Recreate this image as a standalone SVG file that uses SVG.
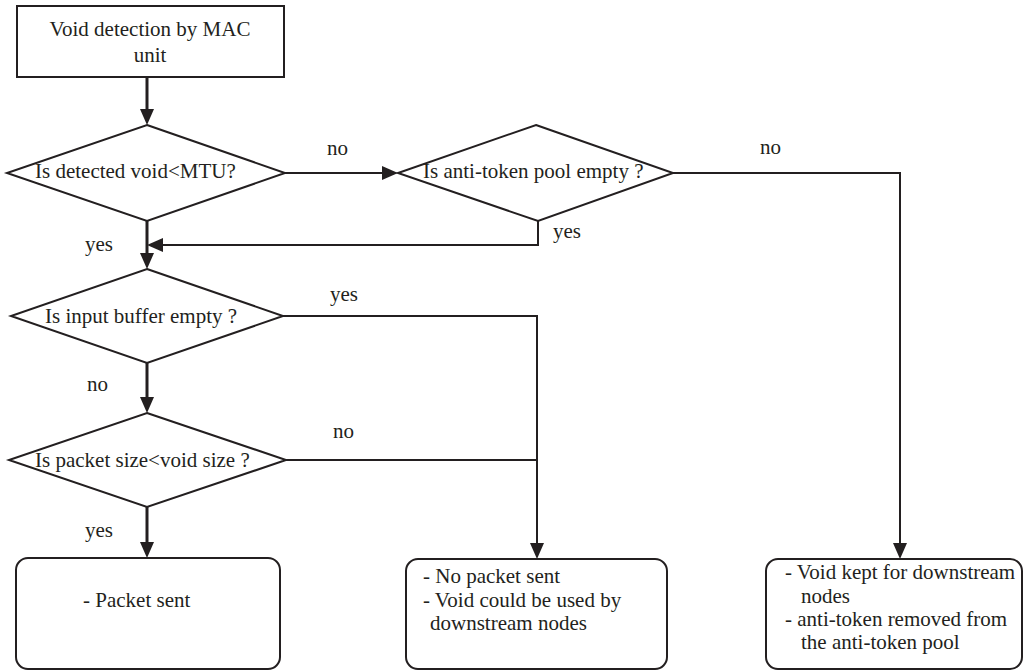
<svg xmlns="http://www.w3.org/2000/svg" width="1024" height="672" viewBox="0 0 1024 672">
<style>
  .shape { fill: #fff; stroke: #231f20; stroke-width: 2; }
  .t { font-family: "Liberation Serif", "Times New Roman", serif; font-size: 21px; fill: #231f20; }
  .c { fill: none; stroke: #231f20; stroke-width: 2; }
  .ct { fill: none; stroke: #231f20; stroke-width: 3; }
</style>
<defs>
  <marker id="arr" viewBox="0 0 16 14" markerWidth="16" markerHeight="14" markerUnits="userSpaceOnUse" refX="8" refY="7" orient="auto">
    <path d="M0,0 L16,7 L0,14 Z" fill="#231f20"/>
  </marker>
</defs>
<rect width="1024" height="672" fill="#fff"/>

<g id="connectors">
  <line class="ct" x1="147" y1="77" x2="147" y2="117" marker-end="url(#arr)"/>
  <line class="c" x1="285" y1="173" x2="390" y2="173" marker-end="url(#arr)"/>
  <polyline class="c" points="538,221 538,245 155,245" marker-end="url(#arr)"/>
  <line class="ct" x1="147" y1="221" x2="147" y2="261" marker-end="url(#arr)"/>
  <polyline class="c" points="673,173 900,173 900,551" marker-end="url(#arr)"/>
  <polyline class="c" points="283,316 537,316 537,551" marker-end="url(#arr)"/>
  <line class="c" x1="286" y1="460" x2="537" y2="460"/>
  <line class="ct" x1="147" y1="363" x2="147" y2="405" marker-end="url(#arr)"/>
  <line class="ct" x1="147" y1="507" x2="147" y2="550" marker-end="url(#arr)"/>
  <text class="t" x="327" y="155">no</text>
  <text class="t" x="760" y="154">no</text>
  <text class="t" x="553" y="238">yes</text>
  <text class="t" x="85" y="251">yes</text>
  <text class="t" x="330" y="301">yes</text>
  <text class="t" x="87" y="391">no</text>
  <text class="t" x="333" y="438">no</text>
  <text class="t" x="85" y="537">yes</text>
</g>

<g id="start">
  <rect class="shape" x="17" y="6" width="267" height="71"/>
  <text class="t" x="150" y="36" text-anchor="middle">Void detection by MAC</text>
  <text class="t" x="150" y="62" text-anchor="middle">unit</text>
</g>

<g id="d-void-mtu">
  <polygon class="shape" points="147,125 285,173 147,221 7,173"/>
  <text class="t" x="35" y="178">Is detected void&lt;MTU?</text>
</g>

<g id="d-antitoken">
  <polygon class="shape" points="536,125 673,173 538,221 398,173"/>
  <text class="t" x="423" y="178">Is anti-token pool empty ?</text>
</g>

<g id="d-buffer">
  <polygon class="shape" points="147,269 283,316 147,363 11,316"/>
  <text class="t" x="45" y="323">Is input buffer empty ?</text>
</g>

<g id="d-packet">
  <polygon class="shape" points="147,413 286,460 147,507 9,460"/>
  <text class="t" x="35" y="467">Is packet size&lt;void size ?</text>
</g>

<g id="r-sent">
  <rect class="shape" x="16" y="558" width="264" height="111" rx="12"/>
  <text class="t" x="83" y="607">- Packet sent</text>
</g>

<g id="r-nosent">
  <rect class="shape" x="406" y="559" width="261" height="110" rx="12"/>
  <text class="t" x="423" y="583">- No packet sent</text>
  <text class="t" x="423" y="607">- Void could be used by</text>
  <text class="t" x="430" y="630">downstream nodes</text>
</g>

<g id="r-kept">
  <rect class="shape" x="766" y="559" width="256" height="110" rx="12"/>
  <text class="t" x="785" y="579">- Void kept for downstream</text>
  <text class="t" x="801" y="603">nodes</text>
  <text class="t" x="785" y="626">- anti-token removed from</text>
  <text class="t" x="801" y="649">the anti-token pool</text>
</g>
</svg>
